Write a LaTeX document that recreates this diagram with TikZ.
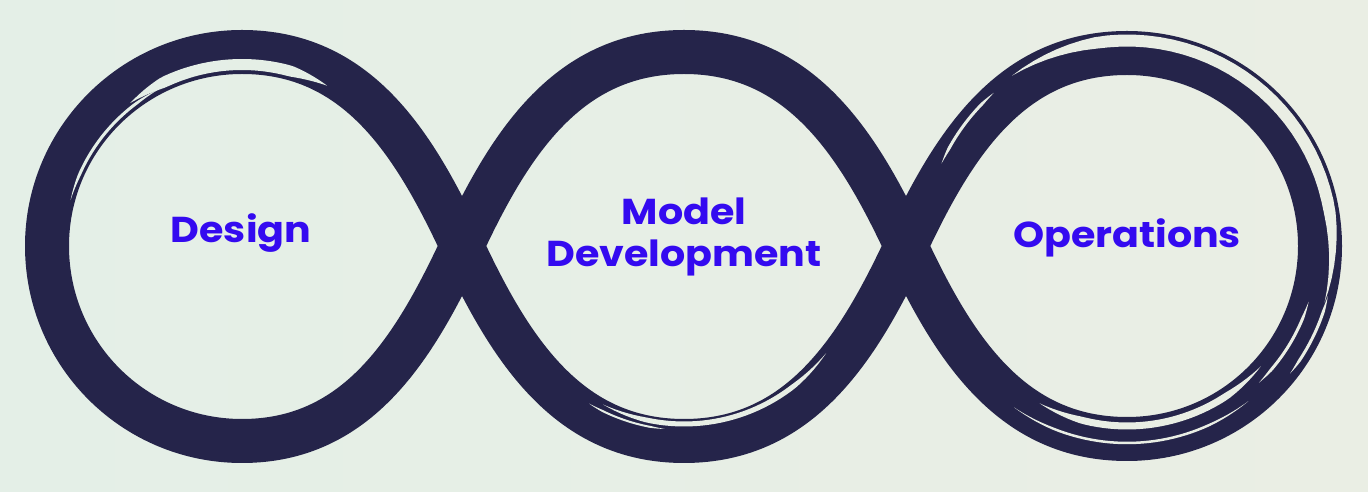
\documentclass[tikz,border=0pt]{standalone}
\usepackage{fontspec}
\setmainfont{Poppins}
\definecolor{navy}{RGB}{37,36,74}
\definecolor{txtblue}{RGB}{52,10,240}
\definecolor{bgL}{RGB}{228,239,231}
\definecolor{bgR}{RGB}{234,238,228}
\tikzset{
  bgfill/.style={left color=bgL,right color=bgR},
  band/.style={draw=navy,line width=44pt,line join=round},
  lbl/.style={text=txtblue,font=\bfseries\fontsize{36}{42}\selectfont,align=center,inner sep=0pt,transform shape,xscale=1.1}
}
% \brushgap{cx}{cy}{a1}{a2}{r}{w}: a background-coloured sliver cut into the band
\newcommand{\brushgap}[6]{%
  \begin{scope}
    \clip[shift={(#1,#2)}]
      plot[domain=#3:#4,samples=40,variable=\t] (\t:{#5+#6/2*min(1,1.8*abs(sin(180/(#4-#3)*(\t-#3))))})
      -- plot[domain=#4:#3,samples=40,variable=\t] (\t:{#5-#6/2*min(1,1.8*abs(sin(180/(#4-#3)*(\t-#3))))})
      -- cycle;
    \shade[bgfill] (0,0) rectangle (1368,492);
  \end{scope}}
\begin{document}
\begin{tikzpicture}[x=1pt,y=1pt]
\shade[bgfill] (0,0) rectangle (1368,492);
\useasboundingbox (0,0) rectangle (1368,492);
% crossings and extreme points of the loop centre line
\coordinate (A) at (462,246);
\coordinate (B) at (906,246);
\coordinate (Ltop) at (242,440);
\coordinate (Lleft) at (47,246);
\coordinate (Lbot) at (242,51);
\coordinate (Mtop) at (684,440);
\coordinate (Mbot) at (684,51);
\coordinate (Rtop) at (1127,439);
\coordinate (Rright) at (1320,246);
\coordinate (Rbot) at (1127,53);
\draw[band] (A) to[out=-65,in=180] (Mbot) to[out=0,in=-115] (B)
  to[out=65,in=180] (Rtop) to[out=0,in=90] (Rright) to[out=-90,in=0] (Rbot)
  to[out=180,in=-65] (B) to[out=115,in=0] (Mtop) to[out=180,in=65] (A)
  to[out=-115,in=0] (Lbot) to[out=180,in=-90] (Lleft) to[out=90,in=180] (Ltop)
  to[out=0,in=115] (A);
% brush-stroke splits
\brushgap{242}{246}{165}{118}{177.5}{3}
\brushgap{242}{246}{128}{62}{181.5}{11}
\brushgap{684}{246}{-117}{-37}{178}{5}
\brushgap{684}{246}{-121}{-96}{184}{2}
\brushgap{1127}{246}{124}{-16}{205.5}{12}
\brushgap{1127}{246}{156}{131}{203}{3}
\brushgap{1127}{246}{-119}{-42}{180}{7}
\brushgap{1127}{246}{-125}{-52}{197}{2.5}
\brushgap{1127}{246}{-46}{-17}{190}{3}
\brushgap{1127}{246}{-38}{-14}{207}{3}
% labels
\node[lbl,anchor=base] (design) at (241,249) {Design};
\node[lbl,anchor=base] (modeldev) at (684,225) {Model\\Development};
\node[lbl,anchor=base] (operations) at (1127,244) {Operations};
\end{tikzpicture}
\end{document}
